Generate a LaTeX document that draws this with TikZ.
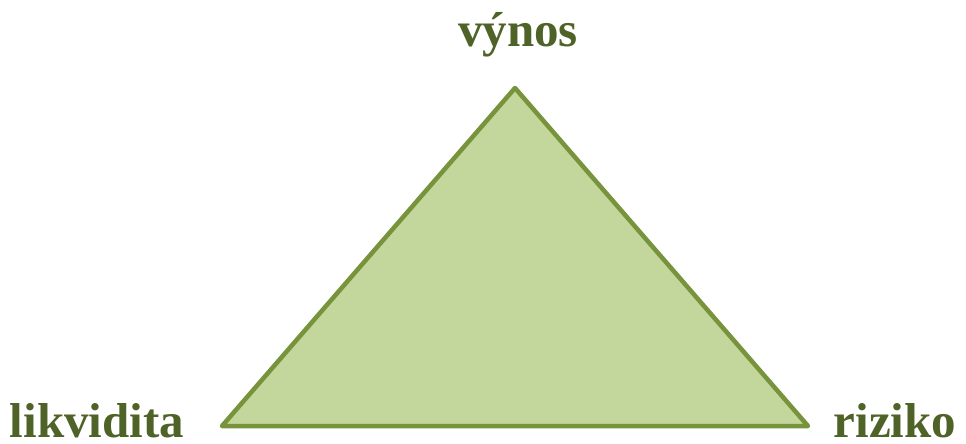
\documentclass[tikz,border=0pt]{standalone}
\usepackage{fontspec}
\setmainfont{Liberation Serif}
\definecolor{txtgreen}{HTML}{4F6228}
\definecolor{fillgreen}{HTML}{C3D69B}
\definecolor{linegreen}{HTML}{77933C}
\begin{document}
\begin{tikzpicture}[x=1pt,y=-1pt,
  lbl/.style={font=\fontsize{49}{52}\selectfont\bfseries, text=txtgreen, inner sep=0pt, anchor=base}]
\useasboundingbox (0,0) rectangle (966,444);
\coordinate (top) at (515,88);
\coordinate (bl) at (222,426);
\coordinate (br) at (808,426);
\draw[fill=fillgreen, draw=linegreen, line width=4.5pt, line join=round] (top) -- (bl) -- (br) -- cycle;
\node[lbl] (vynos) at (518,47) {výnos};
\node[lbl] (likv) at (97,437) {likvidita};
\node[lbl] (riz) at (895,437) {riziko};
\end{tikzpicture}
\end{document}
